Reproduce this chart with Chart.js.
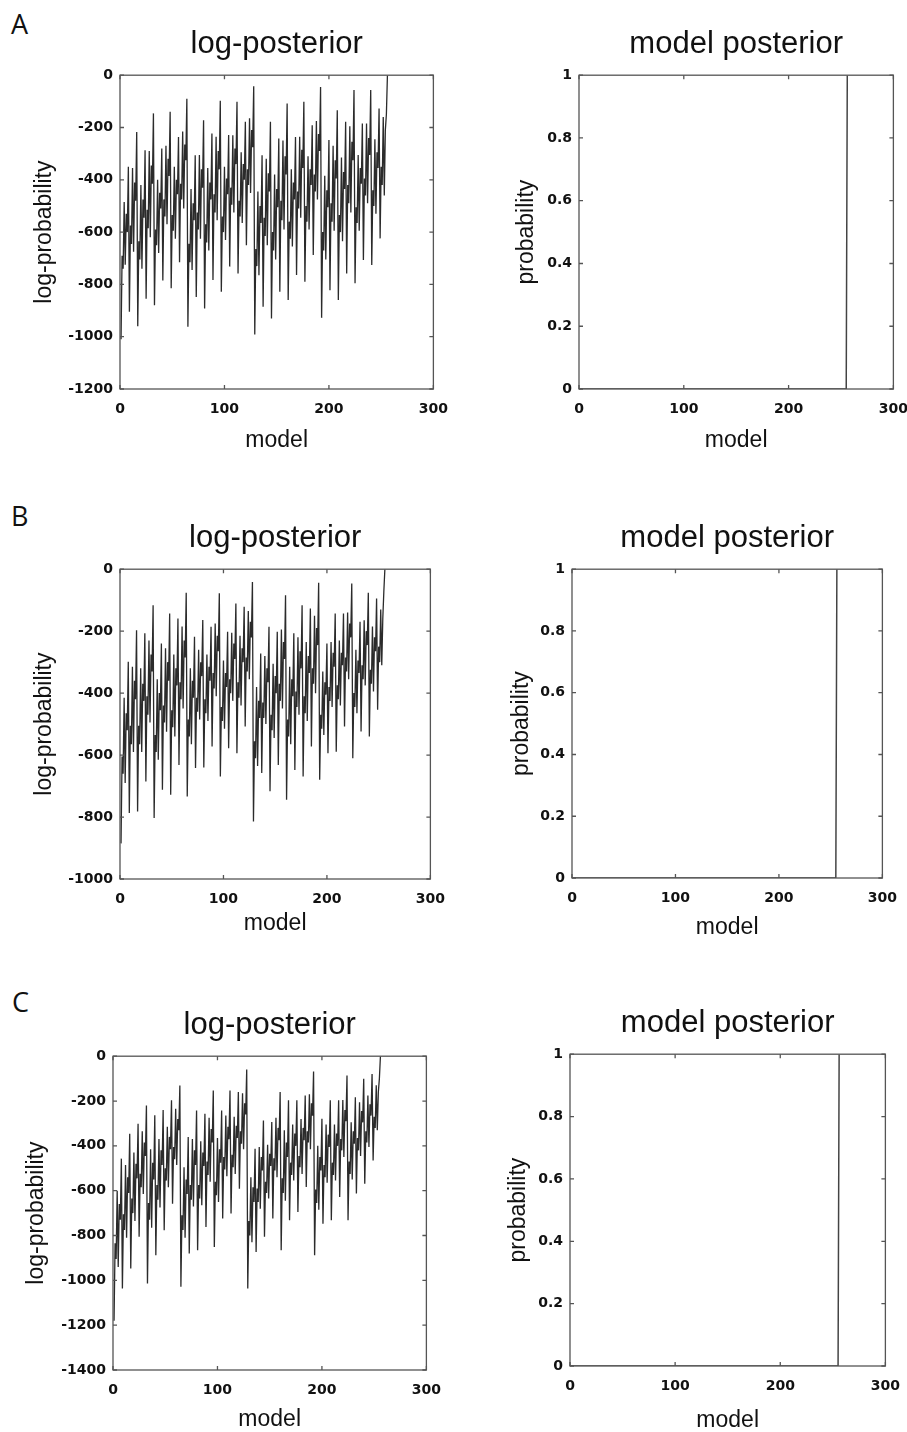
<!DOCTYPE html>
<html>
<head>
<meta charset="utf-8">
<script src="https://cdn.jsdelivr.net/npm/chart.js@4.4.0/dist/chart.umd.min.js"></script>
<style>
  html, body { margin: 0; padding: 0; background: #fff; }
  body { width: 907px; height: 1432px; position: relative; overflow: hidden; }
  canvas { position: absolute; }
  .tag { position: absolute; font-family: "Open Sans", sans-serif; font-size: 27px; line-height: 1; color: #111; }
</style>
</head>
<body>
<div class="tag" style="left:11px; top:10px;">A</div>
<div class="tag" style="left:11px; top:502px;">B</div>
<div class="tag" style="left:12px; top:988px;">C</div>
<script>
// log-posterior per model (models 1..256)
const logPostA = [
  -1010,-690,-740,-485,-725,-530,-600,-350, -905,-575,-645,-355,-675,-410,-480,-217,
  -960,-635,-705,-420,-740,-475,-545,-287, -855,-515,-585,-290,-620,-345,-415,-146,
  -880,-590,-650,-400,-680,-450,-510,-280, -785,-475,-540,-270,-570,-320,-385,-140,
  -815,-535,-595,-350,-625,-400,-455,-236, -715,-415,-475,-215,-510,-265,-325,-90,
  -962,-645,-715,-435,-745,-490,-555,-306, -848,-525,-590,-305,-625,-360,-430,-172,
  -892,-570,-640,-355,-670,-410,-475,-223, -783,-455,-525,-235,-555,-290,-360,-98,
  -828,-540,-600,-350,-630,-395,-455,-229, -732,-430,-495,-230,-525,-280,-340,-102,
  -758,-480,-540,-295,-565,-340,-400,-178, -650,-360,-420,-165,-450,-210,-275,-42,
  -992,-665,-730,-445,-765,-500,-565,-306, -885,-545,-615,-320,-650,-375,-445,-178,
  -930,-600,-670,-380,-705,-435,-505,-242, -828,-480,-555,-250,-590,-310,-380,-108,
  -860,-560,-625,-360,-655,-410,-475,-236, -764,-445,-510,-235,-545,-285,-355,-102,
  -790,-500,-560,-310,-590,-360,-420,-191, -688,-380,-445,-175,-475,-225,-290,-45,
  -928,-600,-670,-385,-705,-440,-505,-248, -822,-490,-560,-270,-595,-325,-395,-134,
  -860,-535,-600,-315,-635,-370,-435,-178, -758,-420,-490,-195,-525,-255,-325,-57,
  -796,-505,-565,-305,-595,-355,-415,-185, -707,-395,-460,-185,-490,-240,-305,-57,
  -726,-440,-500,-245,-530,-295,-355,-127, -624,-350,-420,-160,-460,-210,-150,0
];
const logPostB = [
  -885,-605,-660,-415,-690,-465,-520,-299, -787,-505,-565,-315,-590,-360,-420,-197,
  -782,-505,-565,-320,-590,-370,-425,-207, -685,-410,-470,-230,-495,-275,-330,-116,
  -803,-535,-590,-355,-615,-400,-455,-240, -712,-440,-495,-255,-525,-300,-360,-143,
  -728,-455,-510,-275,-540,-320,-375,-159, -632,-365,-420,-185,-450,-230,-285,-76,
  -734,-485,-540,-320,-565,-360,-415,-218, -642,-415,-460,-260,-485,-300,-345,-164,
  -640,-420,-465,-275,-490,-315,-360,-186, -572,-335,-385,-175,-410,-215,-265,-78,
  -669,-445,-490,-295,-515,-335,-380,-202, -578,-355,-400,-205,-425,-240,-290,-111,
  -594,-365,-415,-215,-440,-255,-300,-121, -508,-285,-330,-135,-355,-170,-220,-41,
  -814,-555,-610,-380,-635,-425,-480,-272, -658,-430,-480,-280,-500,-320,-365,-186,
  -717,-470,-520,-305,-545,-345,-400,-202, -632,-370,-425,-195,-450,-235,-290,-84,
  -744,-485,-540,-315,-565,-355,-410,-207, -648,-395,-445,-220,-470,-265,-320,-116,
  -669,-410,-465,-235,-490,-280,-335,-127, -572,-320,-370,-150,-400,-190,-245,-44,
  -680,-470,-515,-330,-535,-365,-405,-240, -594,-380,-425,-235,-445,-270,-315,-143,
  -589,-375,-420,-230,-440,-270,-310,-143, -508,-285,-330,-140,-355,-175,-220,-46,
  -610,-400,-445,-260,-465,-295,-335,-170, -524,-310,-355,-165,-375,-200,-245,-76,
  -540,-325,-370,-185,-395,-220,-265,-95, -454,-250,-300,-130,-310,-160,-73,0
];
const logPostC = [
  -1180,-835,-905,-600,-940,-660,-730,-457, -1036,-705,-775,-485,-810,-540,-610,-346,
  -947,-635,-700,-430,-735,-480,-545,-301, -806,-525,-585,-335,-615,-385,-445,-220,
  -1014,-655,-730,-415,-765,-475,-550,-264, -888,-575,-640,-370,-675,-420,-485,-240,
  -776,-500,-555,-315,-585,-360,-415,-197, -658,-405,-460,-235,-485,-280,-330,-131,
  -1029,-710,-775,-495,-810,-550,-615,-361, -880,-575,-640,-370,-670,-420,-485,-242,
  -866,-575,-635,-380,-665,-430,-490,-257, -762,-470,-530,-275,-560,-325,-385,-153,
  -851,-560,-620,-365,-650,-415,-475,-242, -724,-450,-505,-265,-535,-315,-370,-153,
  -702,-440,-495,-270,-525,-310,-365,-160, -591,-335,-390,-165,-415,-210,-260,-59,
  -1036,-735,-800,-540,-830,-585,-650,-413, -873,-590,-650,-405,-680,-450,-510,-287,
  -806,-560,-610,-395,-635,-435,-490,-294, -724,-455,-510,-275,-540,-320,-375,-160,
  -866,-545,-610,-330,-645,-385,-450,-197, -732,-475,-530,-305,-555,-345,-400,-197,
  -695,-445,-495,-280,-525,-320,-375,-175, -583,-335,-385,-170,-415,-210,-265,-68,
  -888,-595,-655,-400,-685,-450,-510,-279, -747,-485,-540,-305,-565,-350,-405,-197,
  -732,-475,-530,-305,-555,-345,-400,-197, -628,-370,-420,-195,-450,-240,-290,-86,
  -732,-470,-525,-295,-550,-335,-390,-183, -613,-365,-420,-205,-445,-245,-295,-101,
  -569,-335,-385,-175,-405,-215,-265,-79, -465,-270,-320,-130,-330,-160,-100,0
];
// model posterior (same in all three rows): all mass on the last model
const modelPosterior = [
  0,0,0,0,0,0,0,0,0,0,0,0,0,0,0,0,0,0,0,0,0,0,0,0,0,0,0,0,0,0,0,0,
  0,0,0,0,0,0,0,0,0,0,0,0,0,0,0,0,0,0,0,0,0,0,0,0,0,0,0,0,0,0,0,0,
  0,0,0,0,0,0,0,0,0,0,0,0,0,0,0,0,0,0,0,0,0,0,0,0,0,0,0,0,0,0,0,0,
  0,0,0,0,0,0,0,0,0,0,0,0,0,0,0,0,0,0,0,0,0,0,0,0,0,0,0,0,0,0,0,0,
  0,0,0,0,0,0,0,0,0,0,0,0,0,0,0,0,0,0,0,0,0,0,0,0,0,0,0,0,0,0,0,0,
  0,0,0,0,0,0,0,0,0,0,0,0,0,0,0,0,0,0,0,0,0,0,0,0,0,0,0,0,0,0,0,0,
  0,0,0,0,0,0,0,0,0,0,0,0,0,0,0,0,0,0,0,0,0,0,0,0,0,0,0,0,0,0,0,0,
  0,0,0,0,0,0,0,0,0,0,0,0,0,0,0,0,0,0,0,0,0,0,0,0,0,0,0,0,0,0,0,1
];
const models = logPostA.map((v, i) => i + 1);

const xTicks = [0, 100, 200, 300];
const yTicksA = [0, -200, -400, -600, -800, -1000, -1200];
const yTicksB = [0, -200, -400, -600, -800, -1000];
const yTicksC = [0, -200, -400, -600, -800, -1000, -1200, -1400];
const probTicks = [0, 0.2, 0.4, 0.6, 0.8, 1];

const tickFont = { family: 'DejaVu Sans', size: 14, weight: 'bold' };
const labelFont = { family: 'Liberation Sans', size: 23, lineHeight: 1.2 };
const titleFont = { family: 'Liberation Sans', size: 31, weight: 'normal', lineHeight: 1.2 };

// box round the plot plus small inward tick marks on all four sides
const frame = {
    id: 'frame',
    afterDatasetsDraw(chart) {
        const { ctx, chartArea: a, scales: { x, y } } = chart;
        ctx.save();
        ctx.strokeStyle = '#555';
        ctx.lineWidth = 1.3;
        ctx.strokeRect(a.left, a.top, a.right - a.left, a.bottom - a.top);
        ctx.beginPath();
        x.ticks.forEach(t => {
            const px = x.getPixelForValue(t.value);
            ctx.moveTo(px, a.bottom); ctx.lineTo(px, a.bottom - 4);
            ctx.moveTo(px, a.top); ctx.lineTo(px, a.top + 4);
        });
        y.ticks.forEach(t => {
            const py = y.getPixelForValue(t.value);
            ctx.moveTo(a.left, py); ctx.lineTo(a.left + 4, py);
            ctx.moveTo(a.right, py); ctx.lineTo(a.right - 4, py);
        });
        ctx.stroke();
        ctx.restore();
    }
};

const panels = [
    { left: 10,  top: 26,   w: 450, h: 438, title: 'log-posterior',   yTitle: 'log-probability', values: logPostA, yTicks: yTicksA, yPad: 21, xPad: 10, log: true },
    { left: 469, top: 26,   w: 451, h: 438, title: 'model posterior', yTitle: 'probability',     values: modelPosterior, yTicks: probTicks, yPad: 44, xPad: 10, log: false },
    { left: 10,  top: 520,  w: 447, h: 434, title: 'log-posterior',   yTitle: 'log-probability', values: logPostB, yTicks: yTicksB, yPad: 21, xPad: 17, log: true },
    { left: 462, top: 520,  w: 447, h: 433, title: 'model posterior', yTitle: 'probability',     values: modelPosterior, yTicks: probTicks, yPad: 46, xPad: 12, log: false },
    { left: 3,   top: 1007, w: 450, h: 438, title: 'log-posterior',   yTitle: 'log-probability', values: logPostC, yTicks: yTicksC, yPad: 20, xPad: 12, log: true },
    { left: 460, top: 1005, w: 452, h: 436, title: 'model posterior', yTitle: 'probability',     values: modelPosterior, yTicks: probTicks, yPad: 45, xPad: 7, log: false }
];

panels.forEach(p => {
    const canvas = document.createElement('canvas');
    canvas.width = p.w;
    canvas.height = p.h;
    canvas.style.left = p.left + 'px';
    canvas.style.top = p.top + 'px';
    canvas.style.width = p.w + 'px';
    canvas.style.height = p.h + 'px';
    document.body.appendChild(canvas);

    const yMin = Math.min(...p.yTicks);
    const yMax = Math.max(...p.yTicks);

    new Chart(canvas, {
        type: 'line',
        data: {
            datasets: [{
                data: models.map((m, i) => ({ x: m, y: p.values[i] })),
                borderColor: p.log ? '#2b2b2b' : '#444',
                borderWidth: p.log ? 1.3 : 1.5,
                pointRadius: 0,
                tension: 0,
                fill: false
            }]
        },
        options: {
            responsive: false,
            animation: false,
            devicePixelRatio: 1,
            layout: { padding: { top: 0, right: 20, bottom: 0, left: 0 } },
            plugins: {
                legend: { display: false },
                tooltip: { enabled: false },
                title: {
                    display: true,
                    text: p.title,
                    fullSize: false,
                    color: '#111',
                    font: titleFont,
                    padding: { top: 0, bottom: 12 }
                }
            },
            scales: {
                x: {
                    type: 'linear',
                    min: 0,
                    max: 300,
                    afterBuildTicks: s => { s.ticks = xTicks.map(v => ({ value: v })); },
                    afterFit: s => { s.height = 75; },
                    grid: { display: false, drawTicks: false },
                    border: { display: false },
                    ticks: { padding: 12, color: '#111', font: tickFont, maxRotation: 0, autoSkip: false },
                    title: { display: true, text: 'model', color: '#111', font: labelFont, padding: { top: 0, bottom: p.xPad } }
                },
                y: {
                    type: 'linear',
                    min: yMin,
                    max: yMax,
                    afterBuildTicks: s => { s.ticks = p.yTicks.map(v => ({ value: v })); },
                    afterFit: s => { s.width = 110; },
                    grid: { display: false, drawTicks: false },
                    border: { display: false },
                    ticks: { padding: 7, color: '#111', font: tickFont, autoSkip: false, callback: v => String(v) },
                    title: { display: true, text: p.yTitle, color: '#111', font: labelFont, padding: { top: p.yPad, bottom: 0 } }
                }
            }
        },
        plugins: [frame]
    });
});
</script>
</body>
</html>
